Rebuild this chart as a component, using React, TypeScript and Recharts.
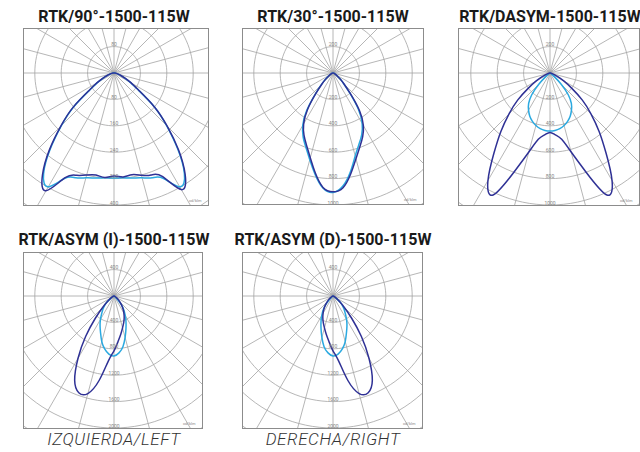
import { ComposedChart, Line, Scatter, XAxis, YAxis } from 'recharts'

// angles from nadir, negative = left side of the diagram
const ANGLES = [
  -90, -85, -80, -75, -70, -65, -60, -55, -50, -45, -40, -35, -30, -25, -20, -15, -10, -5, 0,
  5, 10, 15, 20, 25, 30, 35, 40, 45, 50, 55, 60, 65, 70, 75, 80, 85, 90,
]

// cd/klm, C0-180 (dark) and C90-270 (light) planes
const P90_C0 = [0, 3, 7, 13, 22, 38, 60, 92, 162, 228, 305, 378, 412, 350, 330, 320, 314, 318, 312, 316, 313, 321, 329, 346, 408, 376, 304, 228, 160, 92, 60, 38, 22, 13, 7, 3, 0]
const P90_C90 = [0, 3, 7, 12, 21, 36, 58, 90, 160, 225, 300, 372, 398, 352, 338, 329, 323, 319, 318, 319, 323, 329, 338, 352, 398, 372, 300, 225, 160, 90, 58, 36, 21, 12, 7, 3, 0]

const P30_C0 = [0, 2, 4, 7, 10, 16, 25, 42, 75, 120, 200, 335, 445, 520, 585, 665, 770, 870, 900, 872, 775, 672, 595, 532, 460, 352, 205, 120, 75, 42, 25, 16, 10, 7, 4, 2, 0]
const P30_C90 = [0, 2, 4, 7, 10, 16, 26, 44, 78, 125, 208, 348, 458, 535, 600, 680, 780, 875, 905, 860, 760, 650, 575, 515, 442, 335, 195, 115, 72, 40, 25, 16, 10, 7, 4, 2, 0]

const DASYM_C0 = [0, 3, 8, 18, 35, 65, 120, 200, 320, 440, 580, 740, 940, 1020, 800, 620, 510, 470, 450, 470, 510, 620, 800, 1020, 940, 740, 580, 440, 320, 200, 120, 65, 35, 18, 8, 3, 0]
const DASYM_C90 = [0, 0, 0, 1, 1, 3, 6, 15, 40, 120, 215, 282, 325, 362, 390, 412, 428, 437, 440, 437, 428, 412, 390, 362, 325, 282, 215, 120, 40, 15, 6, 3, 1, 1, 0, 0, 0]

const ASYMI_C0 = [0, 1, 3, 6, 12, 22, 40, 70, 130, 240, 440, 750, 1090, 1410, 1560, 1530, 1300, 990, 830, 695, 590, 500, 430, 365, 300, 240, 180, 122, 80, 50, 30, 18, 10, 6, 3, 1, 0]
const ASYMI_C90 = [0, 0, 1, 2, 4, 8, 20, 55, 135, 200, 262, 325, 410, 500, 595, 715, 815, 885, 909, 865, 780, 650, 530, 430, 340, 262, 175, 85, 32, 12, 5, 2, 1, 0, 0, 0, 0]

const ASYMD_C0 = [0, 1, 3, 6, 10, 18, 30, 50, 80, 122, 180, 240, 300, 365, 430, 500, 590, 695, 830, 990, 1300, 1530, 1560, 1410, 1090, 750, 440, 240, 130, 70, 40, 22, 12, 6, 3, 1, 0]
const ASYMD_C90 = [0, 0, 0, 0, 1, 2, 5, 12, 32, 85, 175, 262, 340, 430, 530, 650, 780, 865, 909, 885, 815, 715, 595, 500, 410, 325, 262, 200, 135, 55, 20, 8, 4, 2, 1, 0, 0]

const TITLES = [
  'RTK/90°-1500-115W',
  'RTK/30°-1500-115W',
  'RTK/DASYM-1500-115W',
  'RTK/ASYM (I)-1500-115W',
  'RTK/ASYM (D)-1500-115W',
]
const RING_STEPS = [80, 200, 200, 400, 400]
const CAPTIONS = ['', '', '', 'IZQUIERDA/LEFT', 'DERECHA/RIGHT']

const DARK = '#2f3195'
const LIGHT = '#2aa9e0'
const GRID = '#a3a3a3'
const RING_PX = 26.4

const SERIES = [
  [P90_C0, P90_C90],
  [P30_C0, P30_C90],
  [DASYM_C0, DASYM_C90],
  [ASYMI_C0, ASYMI_C90],
  [ASYMD_C0, ASYMD_C90],
]

// box placement on the page
const LAYOUT = [
  { left: 23, top: 28, w: 186, h: 178, cx: 114, cy: 73, titleTop: 7 },
  { left: 242, top: 28, w: 182, h: 177, cx: 333, cy: 73, titleTop: 7 },
  { left: 458, top: 28, w: 182, h: 178, cx: 550, cy: 73, titleTop: 7 },
  { left: 23, top: 252, w: 180, h: 177, cx: 114, cy: 296, titleTop: 230 },
  { left: 242, top: 252, w: 181, h: 177, cx: 333, cy: 296, titleTop: 230 },
]

const rad = (d: number) => (d * Math.PI) / 180

function toXY(values: number[]) {
  return ANGLES.map((a, i) => ({ x: values[i] * Math.sin(rad(a)), y: -values[i] * Math.cos(rad(a)) }))
}

function ring(r: number) {
  const pts = []
  for (let a = 0; a <= 360; a += 3) pts.push({ x: r * Math.sin(rad(a)), y: r * Math.cos(rad(a)) })
  return pts
}

function spoke(a: number, r: number) {
  return [
    { x: r * Math.sin(rad(a)), y: r * Math.cos(rad(a)) },
    { x: -r * Math.sin(rad(a)), y: -r * Math.cos(rad(a)) },
  ]
}

function Panel({ i }: { i: number }) {
  const p = LAYOUT[i]
  const step = RING_STEPS[i]
  const k = step / RING_PX
  const xDom = [-(p.cx - p.left) * k, (p.left + p.w - p.cx) * k]
  const yDom = [-(p.top + p.h - p.cy) * k, (p.cy - p.top) * k]
  const rings = [1, 2, 3, 4, 5, 6, 7, 8].map((n) => ring(n * step))
  const spokes = [0, 15, 30, 45, 60, 75, 90, 105, 120, 135, 150, 165].map((a) => spoke(a, step * 9))
  const labels = [{ x: 0, y: step, t: String(step) }].concat(
    [1, 2, 3, 4, 5].map((n) => ({ x: 0, y: -n * step, t: String(n * step) }))
  )
  const [c0, c90] = SERIES[i]

  return (
    <>
      <div style={{ position: 'absolute', left: p.left, top: p.top }}>
        <ComposedChart width={p.w} height={p.h} margin={{ top: 0, right: 0, bottom: 0, left: 0 }}>
          <XAxis type="number" dataKey="x" domain={xDom} allowDataOverflow hide />
          <YAxis type="number" dataKey="y" domain={yDom} allowDataOverflow hide />
          {rings.map((d, j) => (
            <Line key={'r' + j} data={d} dataKey="y" stroke={GRID} strokeWidth={0.8} dot={false} isAnimationActive={false} />
          ))}
          {spokes.map((d, j) => (
            <Line key={'s' + j} data={d} dataKey="y" stroke={GRID} strokeWidth={0.8} dot={false} isAnimationActive={false} />
          ))}
          <Scatter
            data={labels}
            dataKey="y"
            isAnimationActive={false}
            shape={(s: any) => (
              <text x={s.cx} y={s.cy - 0.5} textAnchor="middle" fontSize={5} fill="#888" fontFamily="Roboto">
                {s.payload.t}
              </text>
            )}
          />
          <Line data={toXY(c90)} dataKey="y" type="natural" stroke={LIGHT} strokeWidth={1.5} dot={false} isAnimationActive={false} />
          <Line data={toXY(c0)} dataKey="y" type="natural" stroke={DARK} strokeWidth={1.5} dot={false} isAnimationActive={false} />
        </ComposedChart>
      </div>
      <div
        style={{
          position: 'absolute', left: p.left, top: p.top, width: p.w, height: p.h,
          border: '1px solid #8c8c8c', boxSizing: 'border-box', pointerEvents: 'none',
        }}
      />
      <div style={{ position: 'absolute', left: p.left + p.w - 20, top: p.top + p.h - 8, fontSize: 4, lineHeight: '5px', color: '#888', fontFamily: 'Roboto' }}>
        cd/klm
      </div>
      <div
        style={{
          position: 'absolute', left: p.cx - 150, width: 300, top: p.titleTop, textAlign: 'center',
          fontSize: 16, lineHeight: '20px', fontWeight: 700, color: '#1a1a1a', fontFamily: 'Roboto',
        }}
      >
        {TITLES[i]}
      </div>
      {CAPTIONS[i] && (
        <div
          style={{
            position: 'absolute', left: p.cx - 150, width: 300, top: 431, textAlign: 'center',
            fontSize: 17, lineHeight: '17px', fontWeight: 300, fontStyle: 'italic', letterSpacing: 0.6,
            color: '#333', fontFamily: 'Roboto',
          }}
        >
          {CAPTIONS[i]}
        </div>
      )}
    </>
  )
}

export default function App() {
  return (
    <div style={{ position: 'fixed', left: 0, top: 0, width: 640, height: 452, overflow: 'hidden', background: '#fff' }}>
      {[0, 1, 2, 3, 4].map((i) => (
        <Panel key={i} i={i} />
      ))}
    </div>
  )
}
